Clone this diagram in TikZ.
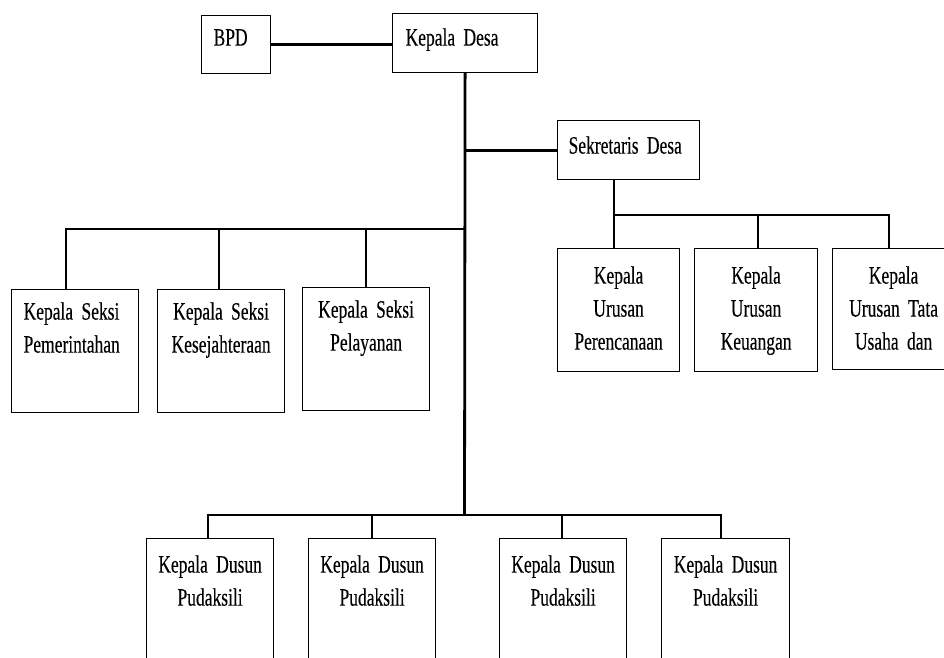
\documentclass[tikz,border=0pt]{standalone}
\usepackage{fontspec}
\setmainfont{Liberation Serif}[FakeStretch=0.70,FakeBold=0.2]
\newcommand\orgboxfont{\fontsize{25}{33}\selectfont\spaceskip=2pt\relax\xspaceskip=2pt\relax}
\begin{document}
\begin{tikzpicture}[x=1pt,y=-1pt,
  box/.style={draw=black, line width=1.2pt, anchor=north west, inner ysep=0pt,
    font=\orgboxfont},
  lbox/.style={box, align=left},
  cbox/.style={box, align=center, inner xsep=0pt},
  conn/.style={draw=black, line width=2.8pt, line join=miter}]
\useasboundingbox (0,0) rectangle (944,657);
\fill[white] (0,0) rectangle (944,657);
\clip (0,0) rectangle (944,657);

% top level
\node[lbox, inner xsep=12pt, text width=45pt, text height=30pt, text depth=28pt] (bpd) at (201,15) {BPD};
\node[lbox, inner xsep=13pt, text width=119pt, text height=32pt, text depth=27pt] (kd) at (392,13) {Kepala Desa};
\node[lbox, inner xsep=11pt, text width=120pt, text height=33pt, text depth=26pt] (sd) at (557,120) {Sekretaris Desa};

% urusan
\node[cbox, text width=122pt, text height=35pt, text depth=88pt] (per) at (557,248) {Kepala\\Urusan\\Perencanaan};
\node[cbox, text width=123pt, text height=35pt, text depth=88pt] (keu) at (694,248) {Kepala\\Urusan\\Keuangan};
\node[cbox, text width=122pt, text height=35pt, text depth=86pt] (tata) at (832,248) {Kepala\\Urusan Tata\\Usaha dan};

% seksi
\node[lbox, inner xsep=12pt, text width=103pt, text height=30pt, text depth=93pt] (pem) at (11,289) {Kepala Seksi\\Pemerintahan};
\node[cbox, text width=127pt, text height=30pt, text depth=93pt] (kes) at (157,289) {Kepala Seksi\\Kesejahteraan};
\node[cbox, text width=127pt, text height=30pt, text depth=93pt] (pel) at (302,287) {Kepala Seksi\\Pelayanan};

% dusun
\node[cbox, text width=127pt, text height=34pt, text depth=110pt] (du1) at (146,538) {Kepala Dusun\\Pudaksili};
\node[cbox, text width=127pt, text height=34pt, text depth=110pt] (du2) at (308,538) {Kepala Dusun\\Pudaksili};
\node[cbox, text width=127pt, text height=34pt, text depth=110pt] (du3) at (499,538) {Kepala Dusun\\Pudaksili};
\node[cbox, text width=128pt, text height=34pt, text depth=110pt] (du4) at (661,538) {Kepala Dusun\\Pudaksili};

% junction coordinates
\coordinate (lbusL) at (66,229);
\coordinate (lbusK) at (219,229);
\coordinate (lbusP) at (366,229);
\coordinate (lbusR) at (464.5,229);
\coordinate (rbusL) at (614,215);
\coordinate (rbusK) at (758,215);
\coordinate (rbusR) at (889,215);
\coordinate (bbus1) at (208,515);
\coordinate (bbus2) at (372,515);
\coordinate (bbus3) at (562,515);
\coordinate (bbus4) at (721,515);
\coordinate (bbusM) at (464.5,515);

% connectors
\draw[conn] (bpd.east) -- (bpd.east -| kd.west);
\draw[conn] (kd.south) -- (bbusM);
\draw[conn] (kd.south |- sd.west) -- (sd.west);

\draw[conn] (lbusL |- pem.north) -- (lbusL) -- (lbusR);
\draw[conn] (lbusK) -- (lbusK |- kes.north);
\draw[conn] (lbusP) -- (lbusP |- pel.north);

\draw[conn] (rbusL |- sd.south) -- (rbusL |- per.north);
\draw[conn] (rbusL) -- (rbusR) -- (rbusR |- tata.north);
\draw[conn] (rbusK) -- (rbusK |- keu.north);

\draw[conn] (bbus1 |- du1.north) -- (bbus1) -- (bbus4) -- (bbus4 |- du4.north);
\draw[conn] (bbus2) -- (bbus2 |- du2.north);
\draw[conn] (bbus3) -- (bbus3 |- du3.north);
\end{tikzpicture}
\end{document}
